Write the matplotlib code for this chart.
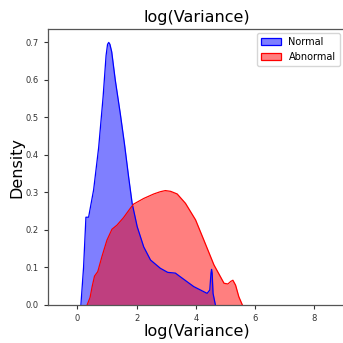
import matplotlib
matplotlib.use("Agg")
import matplotlib.pyplot as plt
import numpy as np
from matplotlib.patches import Patch

# Data (density curves)
normal_x = [0.12, 0.21, 0.29, 0.38, 0.55, 0.72, 0.87, 0.97, 1.02, 1.06, 1.10, 1.16, 1.28, 1.45,
            1.59, 1.73, 1.85, 2.02, 2.24, 2.47, 2.80, 3.05, 3.31, 3.48, 3.93, 4.38,
            4.47, 4.51, 4.53, 4.55, 4.58, 4.66]
normal_y = [0.0, 0.10, 0.234, 0.234, 0.307, 0.42, 0.555, 0.665, 0.695, 0.70, 0.695, 0.675, 0.60, 0.51,
            0.43, 0.342, 0.271, 0.209, 0.155, 0.12, 0.098, 0.087, 0.085, 0.075, 0.049, 0.031,
            0.04, 0.085, 0.095, 0.085, 0.031, 0.0]

abnormal_x = [0.33, 0.43, 0.50, 0.58, 0.69, 0.83, 1.0, 1.17, 1.34, 1.56, 1.79, 1.90,
              2.24, 2.58, 2.80, 2.97, 3.15, 3.37, 3.65, 3.99, 4.27, 4.61, 4.95, 5.08, 5.18, 5.25,
              5.34, 5.45, 5.57]
abnormal_y = [0.0, 0.02, 0.049, 0.077, 0.089, 0.129, 0.173, 0.202, 0.213, 0.233, 0.258, 0.269,
              0.284, 0.296, 0.302, 0.305, 0.303, 0.296, 0.271, 0.227, 0.173, 0.107, 0.058, 0.056, 0.063, 0.066,
              0.053, 0.022, 0.0]

labels = ["Normal", "Abnormal"]
title = "log(Variance)"
xticks = [0, 2, 4, 6, 8]
yticks = [0.0, 0.1, 0.2, 0.3, 0.4, 0.5, 0.6, 0.7]

fig = plt.figure(figsize=(3.43, 3.43), dpi=100)
W = H = 343.0
ax = fig.add_axes([47.7 / W, (H - 305) / H, (345.5 - 47.7) / W, (305 - 29.3) / H])

ax.fill_between(normal_x, normal_y, color="blue", alpha=0.5, linewidth=0, label=labels[0])
ax.plot(normal_x, normal_y, color="blue", linewidth=0.9)
ax.fill_between(abnormal_x, abnormal_y, color="red", alpha=0.5, linewidth=0, label=labels[1])
ax.plot(abnormal_x, abnormal_y, color="red", linewidth=0.9)

ax.set_xlim(-1, 9.05)
ax.set_ylim(0, 0.735)
ax.set_xticks(xticks)
ax.set_yticks(yticks)
ax.tick_params(labelsize=6, colors="#333333", length=3, width=0.8)
for s in ax.spines.values():
    s.set_color("#555555")
    s.set_linewidth(0.9)

ax.set_title(title, fontsize=11.5, pad=5)
ax.set_xlabel(title, fontsize=11.5, labelpad=1)
ax.set_ylabel("Density", fontsize=11.5, labelpad=1)

handles = [Patch(facecolor=(0, 0, 1, 0.5), edgecolor="blue", linewidth=0.9),
           Patch(facecolor=(1, 0, 0, 0.5), edgecolor="red", linewidth=0.9)]
ax.legend(handles, labels, loc="upper right", bbox_to_anchor=(339.5 / W, (H - 33) / H),
          bbox_transform=fig.transFigure, fontsize=7, borderaxespad=0, framealpha=0.8)

fig.savefig("out.png", dpi=100)
